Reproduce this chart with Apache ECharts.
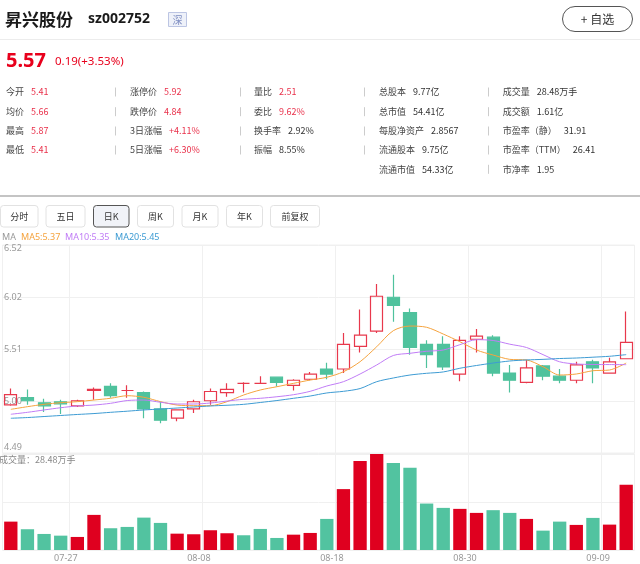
<!DOCTYPE html>
<html><head><meta charset="utf-8">
<script src="https://cdn.jsdelivr.net/npm/echarts@6/dist/echarts.min.js"></script>
<style>html,body{margin:0;padding:0;background:#fff;}#c{width:640px;height:564px;}</style>
</head><body><div id="c"></div>
<script>
// ---------------- data ----------------
const dates = ['07-21','07-22','07-25','07-26','07-27','07-28','07-29','08-01','08-02','08-03','08-04','08-05','08-08','08-09','08-10','08-11','08-12','08-15','08-16','08-17','08-18','08-19','08-22','08-23','08-24','08-25','08-26','08-29','08-30','08-31','09-01','09-02','09-05','09-06','09-07','09-08','09-09','09-13'];
const open  = [4.96,5.03,4.98,4.99,4.95,5.10,5.14,5.10,5.08,4.92,4.83,4.92,5.00,5.08,5.17,5.17,5.23,5.15,5.21,5.31,5.31,5.53,5.68,6.01,5.86,5.55,5.55,5.26,5.60,5.62,5.27,5.18,5.34,5.24,5.20,5.38,5.27,5.41];
const close = [5.06,5.00,4.95,4.97,5.00,5.11,5.05,5.10,4.92,4.81,4.91,4.99,5.09,5.11,5.17,5.17,5.18,5.20,5.26,5.26,5.55,5.64,6.02,5.93,5.52,5.45,5.33,5.59,5.63,5.27,5.20,5.32,5.24,5.20,5.35,5.32,5.38,5.57];
const low   = [4.95,4.96,4.89,4.87,4.94,5.01,5.03,5.03,4.83,4.78,4.80,4.88,4.96,5.04,5.08,5.165,5.14,5.10,5.20,5.21,5.27,5.47,5.66,5.77,5.45,5.32,5.30,5.19,5.47,5.24,5.08,5.17,5.20,5.17,5.17,5.17,5.27,5.41];
const high  = [5.12,5.11,5.02,5.01,5.01,5.13,5.17,5.15,5.09,4.99,4.91,5.01,5.12,5.17,5.18,5.24,5.23,5.21,5.28,5.37,5.66,5.89,6.14,6.23,5.90,5.59,5.63,5.63,5.70,5.64,5.35,5.40,5.35,5.31,5.38,5.40,5.42,5.87];
const ma5  = [4.916,4.942,4.965,4.981,4.991,5.007,5.024,5.049,5.034,4.991,4.958,4.952,4.952,4.991,5.056,5.105,5.137,5.170,5.202,5.229,5.283,5.381,5.527,5.684,5.729,5.717,5.651,5.576,5.495,5.446,5.404,5.398,5.332,5.251,5.261,5.293,5.300,5.368];
const ma10 = [4.868,4.887,4.910,4.932,4.949,4.958,4.975,5.002,5.007,4.985,4.968,4.968,4.978,4.997,5.014,5.024,5.039,5.059,5.092,5.144,5.186,5.261,5.349,5.442,5.463,5.483,5.495,5.547,5.596,5.588,5.552,5.520,5.450,5.380,5.359,5.354,5.353,5.352];
const ma20 = [4.829,4.836,4.846,4.856,4.866,4.875,4.887,4.898,4.910,4.919,4.929,4.939,4.949,4.956,4.965,4.983,5.002,5.024,5.046,5.076,5.092,5.119,5.186,5.222,5.251,5.268,5.281,5.317,5.344,5.368,5.388,5.398,5.404,5.412,5.417,5.425,5.434,5.450];
const volume = [12.40,9.07,7.01,6.27,5.70,15.34,9.51,10.08,14.15,11.83,7.14,6.88,8.63,7.32,6.44,9.20,5.26,6.70,7.45,13.58,26.60,38.87,41.94,37.99,35.93,20.29,18.40,17.97,16.21,17.40,16.21,13.58,8.46,12.40,10.96,14.02,11.09,28.48];
const yTickLabels = ['4.49','5.00','5.51','6.02','6.52'];
const yMin = 4.49, yMax = 6.52;

const stockName = '昇兴股份', stockCode = 'sz002752', market = '深';
const price = '5.57', change = '0.19(+3.53%)';
const colLabels = [
  ['今开','均价','最高','最低'],
  ['涨停价','跌停价','3日涨幅','5日涨幅'],
  ['量比','委比','换手率','振幅'],
  ['总股本','总市值','每股净资产','流通股本','流通市值'],
  ['成交量','成交额','市盈率（静）','市盈率（TTM）','市净率']
];
const colValues = [
  ['5.41','5.66','5.87','5.41'],
  ['5.92','4.84','+4.11%','+6.30%'],
  ['2.51','9.62%','2.92%','8.55%'],
  ['9.77亿','54.41亿','2.8567','9.75亿','54.33亿'],
  ['28.48万手','1.61亿','31.91','26.41','1.95']
];
const tabs = ['分时','五日','日K','周K','月K','年K','前复权'];

// ---------------- layout / style ----------------
const RED = '#e8001c', VRED = '#df001f', VGREEN = '#52c3a0', CRED = '#e8384c', CGREEN = '#4fc29d';
const FF = '"Noto Sans CJK SC", "Noto Sans", sans-serif';
const G = [];
function txt(x, y, text, o) {
  G.push({type:'text', x, y, silent:true, z:10, style:Object.assign({text, fill:'#333', fontSize:9, fontFamily:FF, align:'left', verticalAlign:'middle'}, o||{})});
}
function rect(x, y, w, h, r, o) {
  G.push({type:'rect', silent:true, z:9, shape:{x, y, width:w, height:h, r}, style:Object.assign({fill:'#fff', stroke:'#ddd', lineWidth:1}, o||{})});
}
function line(x1, y1, x2, y2, o) {
  G.push({type:'line', silent:true, z:9, shape:{x1, y1, x2, y2}, style:Object.assign({stroke:'#eee', lineWidth:1}, o||{})});
}
// header
txt(5, 19.5, stockName, {fontSize:17, fontWeight:'bold', fill:'#1a1a1a'});
txt(88, 19.5, stockCode, {fontSize:14, fontWeight:'bold', fill:'#1a1a1a', fontFamily:'"Noto Sans", sans-serif'});
rect(168.5, 12.5, 18, 14, 0, {fill:'#eef1f9', stroke:'#bcc5e3'});
txt(177.5, 19.8, market, {fontSize:10, fill:'#7d8cc0', align:'center'});
rect(562.5, 6.5, 70, 25, 12.5, {fill:'#fff', stroke:'#555'});
txt(597.5, 19, '+ 自选', {fontSize:12, fill:'#333', align:'center'});
line(0, 39.5, 640, 39.5, {stroke:'#ececec'});
txt(6, 61, price, {fontSize:20, fontWeight:'bold', fill:RED, fontFamily:'"Noto Sans", sans-serif'});
txt(55, 62, change, {fontSize:11.5, fill:RED, fontFamily:'"Noto Sans", sans-serif'});
// stats table
const rowsY = [92, 111.7, 131, 150, 169.3];
const colX = [6, 130, 254, 379, 502.7];
const colRed = [[1,1,1,1],[1,1,1,1],[1,1,0,0],[0,0,0,0,0],[0,0,0,0,0]];
colLabels.forEach((labels, c) => {
  labels.forEach((lb, r) => {
    G.push({type:'text', x:colX[c], y:rowsY[r], silent:true, z:10, style:{
      text:'{l|' + lb + '}{v|' + colValues[c][r] + '}', align:'left', verticalAlign:'middle',
      rich:{l:{fontSize:9, fontFamily:FF, fill:'#444'}, v:{fontSize:9, fontFamily:FF, fill: colRed[c][r] ? '#e9304a' : '#333', padding:[0,0,0,7]}}
    }});
  });
});
[115, 240, 364].forEach(x => rowsY.slice(0,4).forEach(y => line(x+0.5, y-4.5, x+0.5, y+4.5, {stroke:'#ccc'})));
rowsY.forEach(y => line(488.5, y-4.5, 488.5, y+4.5, {stroke:'#ccc'}));
line(0, 196, 640, 196, {stroke:'#b0b0b0', lineWidth:1.5});
// tabs
const tabX = [[0.5,37.5],[46,39],[93.5,35.5],[137.5,36],[182,36],[226.5,36],[270.5,49]];
tabs.forEach((t, i) => {
  const sel = t === '日K';
  rect(tabX[i][0], 205.5, tabX[i][1], 21.5, 3, sel ? {fill:'#f1f3f8', stroke:'#555'} : {fill:'#fff', stroke:'#e2e2e2'});
  txt(tabX[i][0] + tabX[i][1]/2, 216.5, t, {fontSize:9, fill:'#333', align:'center'});
});
// MA legend
const last = a => a[a.length-1].toFixed(2);
txt(2, 237.5, 'MA', {fill:'#999', fontFamily:'"Noto Sans", sans-serif'});
txt(21, 237.5, 'MA5:' + last(ma5), {fill:'#f5a33e', fontFamily:'"Noto Sans", sans-serif'});
txt(65, 237.5, 'MA10:' + last(ma10), {fill:'#c07cf6', fontFamily:'"Noto Sans", sans-serif'});
txt(115, 237.5, 'MA20:' + last(ma20), {fill:'#3d9bd3', fontFamily:'"Noto Sans", sans-serif'});
// volume label
txt(-1, 459.5, '成交量：' + last(volume) + '万手', {fill:'#888'});

// ---------------- chart ----------------
const yTickValues = yTickLabels.map((_, i) => yMin + i * (yMax - yMin) / (yTickLabels.length - 1));
const volMax = Math.max.apply(null, volume);
const splitX = {show:true, interval:(i) => i % 8 === 4, lineStyle:{color:'#f0f0f0'}};
const chart = echarts.init(document.getElementById('c'), null, {renderer:'canvas'});
chart.setOption({
  animation:false,
  graphic: G,
  grid:[
    {left:2.5, width:632, top:245, height:208, show:true, borderColor:'#f0f0f0', borderWidth:1, containLabel:false},
    {left:2.5, width:632, top:454, height:96, show:true, borderColor:'#f0f0f0', borderWidth:1, containLabel:false}
  ],
  xAxis:[
    {type:'category', gridIndex:0, data:dates, boundaryGap:true, axisLine:{show:false}, axisTick:{show:false}, axisLabel:{show:false}, splitLine:splitX},
    {type:'category', gridIndex:1, data:dates, boundaryGap:true, axisLine:{show:false}, axisTick:{show:false},
     axisLabel:{show:true, interval:(i) => i % 8 === 4, color:'#999', fontSize:9, fontFamily:'"Noto Sans", sans-serif', margin:4, padding:[0,23,0,0]}, splitLine:splitX}
  ],
  yAxis:[
    {type:'value', gridIndex:0, min:yMin, max:yMax, axisLine:{show:false},
     axisTick:{show:false, customValues:yTickValues},
     axisLabel:{inside:true, margin:1.5, customValues:yTickValues, color:'#999', fontSize:9, fontFamily:'"Noto Sans", sans-serif',
       formatter:(v) => {
         let k = 0, d = 1e9;
         yTickValues.forEach((t, j) => { if (Math.abs(t - v) < d) { d = Math.abs(t - v); k = j; } });
         if (k === 0) return '{b|' + yTickLabels[k] + '}';
         if (k === yTickLabels.length - 1) return '{t|' + yTickLabels[k] + '}';
         return yTickLabels[k];
       },
       rich:{b:{padding:[0,0,12,0], color:'#999', fontSize:9, fontFamily:'"Noto Sans", sans-serif'}, t:{padding:[7,0,0,0], color:'#999', fontSize:9, fontFamily:'"Noto Sans", sans-serif'}}},
     splitLine:{show:true, lineStyle:{color:'#f0f0f0'}}},
    {type:'value', gridIndex:1, min:0, max:volMax, interval:volMax/2, axisLine:{show:false}, axisTick:{show:false}, axisLabel:{show:false},
     splitLine:{show:true, lineStyle:{color:'#f0f0f0'}}}
  ],
  series:[
    {type:'candlestick', xAxisIndex:0, yAxisIndex:0, barWidth:'76%',
     data: dates.map((d, i) => [open[i], close[i], low[i], high[i]]),
     itemStyle:{color:'rgba(255,255,255,0)', color0:CGREEN, borderColor:CRED, borderColor0:CGREEN, borderColorDoji:CRED, borderWidth:1.2}},
    {type:'line', xAxisIndex:0, yAxisIndex:0, data:ma5, smooth:0.3, showSymbol:false, lineStyle:{width:1, color:'#f5a33e'}, itemStyle:{color:'#f5a33e'}},
    {type:'line', xAxisIndex:0, yAxisIndex:0, data:ma10, smooth:0.3, showSymbol:false, lineStyle:{width:1, color:'#c07cf6'}, itemStyle:{color:'#c07cf6'}},
    {type:'line', xAxisIndex:0, yAxisIndex:0, data:ma20, smooth:0.3, showSymbol:false, lineStyle:{width:1, color:'#3d9bd3'}, itemStyle:{color:'#3d9bd3'}},
    {type:'bar', xAxisIndex:1, yAxisIndex:1, barWidth:'80%',
     data: volume.map((v, i) => ({value:v, itemStyle:{color: close[i] > open[i] ? VRED : VGREEN}}))}
  ]
});
</script></body></html>
